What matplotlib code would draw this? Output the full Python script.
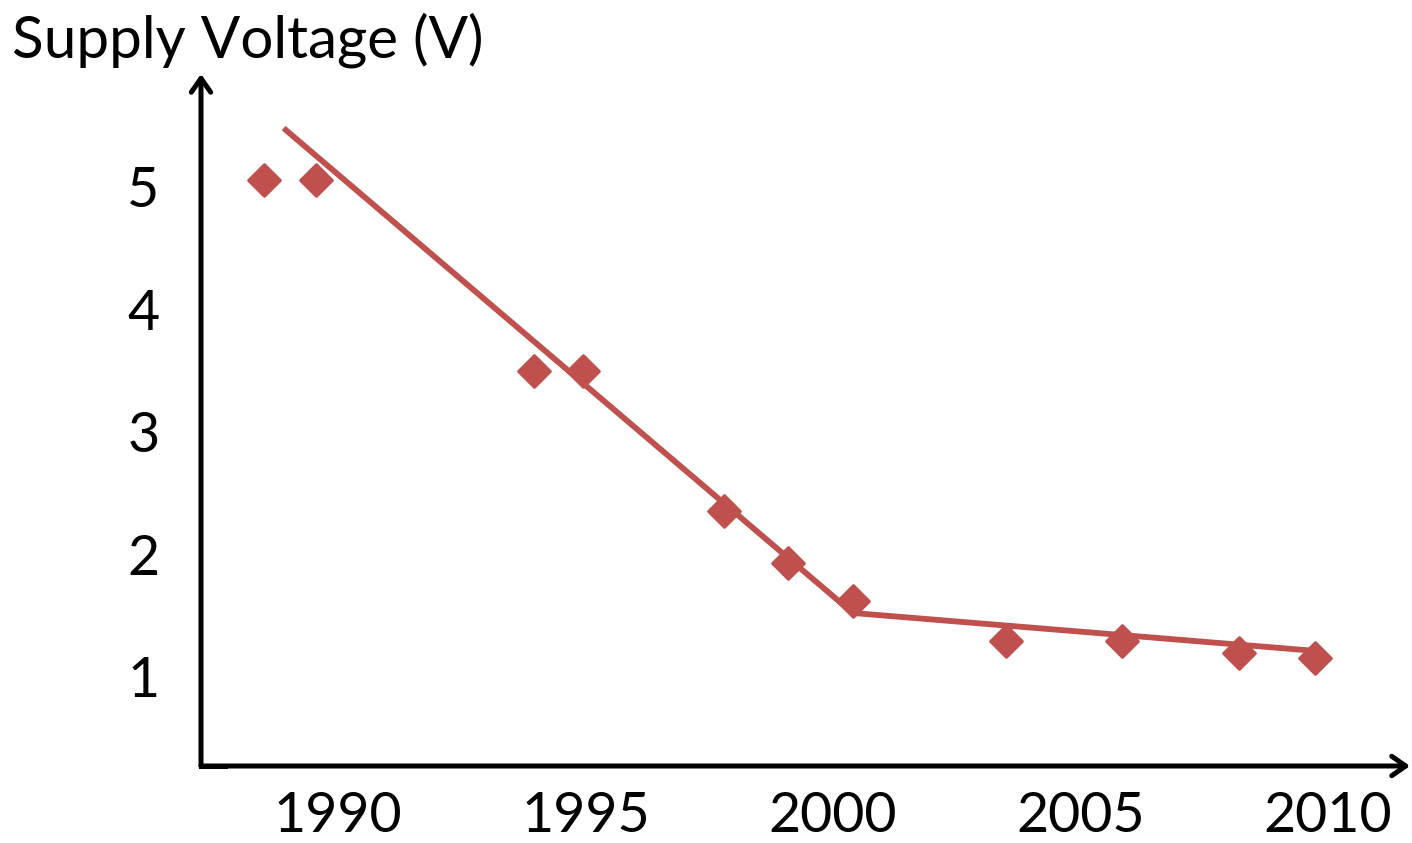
import matplotlib
matplotlib.use("Agg")
import matplotlib.pyplot as plt
from matplotlib.lines import Line2D
from matplotlib.markers import MarkerStyle

plt.rcParams['font.family'] = ['Lato', 'DejaVu Sans']

# Supply voltage over time
years = [1988.5, 1989.55, 1993.95, 1994.95, 1997.8, 1999.1, 2000.4, 2003.5, 2005.85, 2008.2, 2009.75]
volts = [5.06, 5.06, 3.5, 3.5, 2.35, 1.93, 1.62, 1.29, 1.29, 1.19, 1.15]

# Two-segment trend
trend_x = [1988.9, 2000.4, 2009.75]
trend_y = [5.48, 1.52, 1.21]

x_ticks = [1990, 1995, 2000, 2005, 2010]
y_ticks = [1, 2, 3, 4, 5]

red = '#C0504D'

fig = plt.figure(figsize=(14.12, 8.43), dpi=100)
top_px = 74
ax = fig.add_axes([201 / 1412, (843 - 766) / 843, (1410 - 201) / 1412, (766 - top_px) / 843])
ax.set_xlim(1987.23, 2011.66)
ax.set_ylim(0.27, 5 + (187 - top_px) / 122.5)

ax.plot(trend_x, trend_y, color=red, lw=4.2, solid_capstyle='butt', solid_joinstyle='miter', zorder=2)
ax.plot(years, volts, linestyle='none', marker=MarkerStyle('D', joinstyle='round'), markersize=16,
        color=red, markeredgecolor=red, markeredgewidth=2, zorder=3)

for s in ax.spines.values():
    s.set_visible(False)

arrow = dict(arrowstyle='->,head_length=1.0,head_width=0.7', color='black', lw=3.6,
             shrinkA=0, shrinkB=0)
ax.annotate('', xy=(0, 1), xytext=(0, 0), xycoords='axes fraction', arrowprops=arrow, annotation_clip=False)
ax.annotate('', xy=(1, 0), xytext=(0, 0), xycoords='axes fraction', arrowprops=arrow, annotation_clip=False)
ax.add_line(Line2D([0, 0.02], [0, 0], transform=ax.transAxes, color='black', lw=3.6,
                   solid_capstyle='projecting', clip_on=False))

ax.set_xticks(x_ticks)
ax.set_yticks(y_ticks)
ax.tick_params(axis='both', length=0, labelsize=40)
ax.tick_params(axis='x', pad=18)
ax.tick_params(axis='y', pad=30)

fig.text(12 / 1412, 1 - 57 / 843, 'Supply Voltage (V)', fontsize=42, ha='left', va='baseline')

fig.savefig('out.png', dpi=100)
